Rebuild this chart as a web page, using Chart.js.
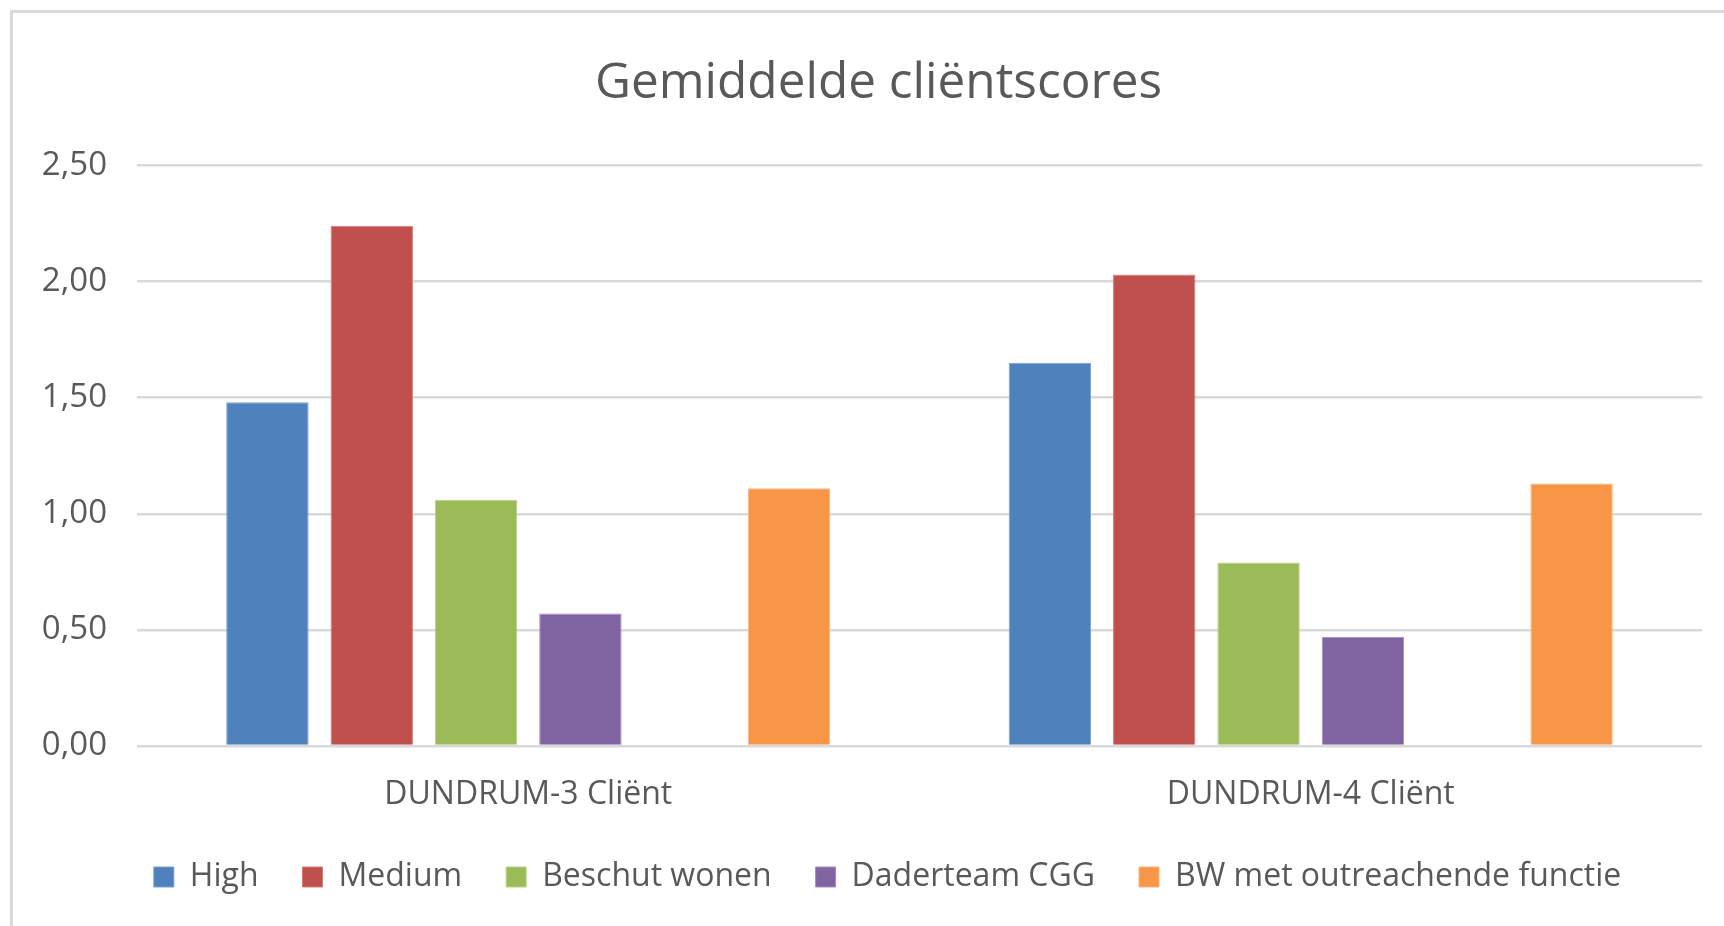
<!DOCTYPE html>
<html>
<head>
<meta charset="utf-8">
<title>Gemiddelde cliëntscores</title>
<script src="https://cdn.jsdelivr.net/npm/chart.js"></script>
<style>
  html, body { margin: 0; padding: 0; background: #fff; overflow: hidden; }
  #wrap { position: relative; width: 1724px; height: 926px; }
  #frame { position: absolute; left: 10px; top: 10px; width: 1800px; height: 1000px;
           border-left: 3px solid #d9d9d9; border-top: 3px solid #d9d9d9; pointer-events: none; }
  canvas { position: absolute; left: 0; top: 0; }
</style>
</head>
<body>
<div id="wrap">
  <canvas id="scores" width="1724" height="926"></canvas>
  <div id="frame"></div>
</div>
<script>
const title = 'Gemiddelde cliëntscores';
const categories = ['DUNDRUM-3 Cliënt', 'DUNDRUM-4 Cliënt'];

const high = [1.48, 1.65];
const medium = [2.24, 2.03];
const beschutWonen = [1.06, 0.79];
const daderteamCgg = [0.57, 0.47];
const leeg = [null, null]; // lege reeks, houdt de open plek in elke groep
const bwOutreachend = [1.11, 1.13];

const yTickLabels = ['0,00', '0,50', '1,00', '1,50', '2,00', '2,50'];

const textColor = '#595959';
const fontFamily = "'Open Sans', 'Noto Sans', sans-serif";

// schuift legenda en titel iets op, zoals in Excel
const shiftBlocks = {
    id: 'shiftBlocks',
    afterLayout(chart) {
        chart.legend.left += 17.5;
        chart.legend.right += 17.5;
        chart.titleBlock.left += 8.5;
        chart.titleBlock.right += 8.5;
    }
};

function makeDataset(label, data, color, border) {
    return {
        label: label,
        data: data,
        backgroundColor: color,
        borderColor: border,
        borderWidth: 1,
        categoryPercentage: 0.8,
        barPercentage: 0.79
    };
}

function makeScoresChart() {
    const ctx = document.getElementById('scores').getContext('2d');
    new Chart(ctx, {
        type: 'bar',
        data: {
            labels: categories,
            datasets: [
                makeDataset('High', high, '#4f81bd', '#7a9fd0'),
                makeDataset('Medium', medium, '#c0504d', '#d67c79'),
                makeDataset('Beschut wonen', beschutWonen, '#9bbb59', '#b8d283'),
                makeDataset('Daderteam CGG', daderteamCgg, '#8064a2', '#a58cc2'),
                makeDataset('', leeg, 'rgba(0,0,0,0)', 'rgba(0,0,0,0)'),
                makeDataset('BW met outreachende functie', bwOutreachend, '#f79646', '#fbb680')
            ]
        },
        plugins: [shiftBlocks],
        options: {
            responsive: false,
            animation: false,
            layout: {
                padding: { left: 38, right: 22, top: 14, bottom: 23 }
            },
            plugins: {
                title: {
                    display: true,
                    text: title,
                    color: textColor,
                    font: { family: fontFamily, size: 49.5, weight: 'normal' },
                    padding: { top: 40, bottom: 52 }
                },
                legend: {
                    position: 'bottom',
                    labels: {
                        color: textColor,
                        font: { family: fontFamily, size: 32 },
                        boxWidth: 20,
                        boxHeight: 20,
                        padding: 44,
                        filter: function (item) { return item.text !== ''; }
                    }
                },
                tooltip: { enabled: false }
            },
            scales: {
                x: {
                    grid: { display: false, drawTicks: false },
                    border: { display: false },
                    ticks: {
                        color: textColor,
                        font: { family: fontFamily, size: 32 },
                        padding: 30
                    },
                    afterFit: function (axis) { axis.height = 71; }
                },
                y: {
                    min: 0,
                    max: 2.5,
                    grid: { color: '#d9d9d9', lineWidth: 2.5, drawTicks: false },
                    border: { display: false },
                    ticks: {
                        stepSize: 0.5,
                        color: textColor,
                        font: { family: fontFamily, size: 33 },
                        padding: 30,
                        callback: function (value, index) { return yTickLabels[index]; }
                    },
                    afterFit: function (axis) { axis.width = 99; }
                }
            }
        }
    });
}

makeScoresChart();
</script>
</body>
</html>
